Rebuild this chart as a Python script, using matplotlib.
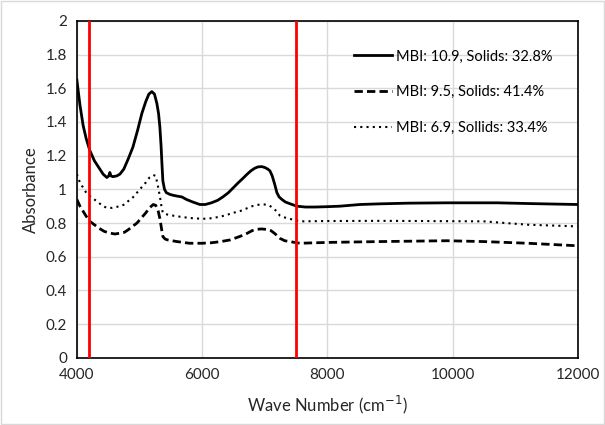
import matplotlib.pyplot as plt
from matplotlib.patches import Rectangle

plt.rcParams["font.family"] = ["Lato", "DejaVu Sans"]

# MBI 10.9, solids 32.8%
wn_a = [4000, 4050, 4100, 4150, 4208, 4280, 4350, 4420, 4480, 4510, 4527, 4545, 4575, 4640,
        4687, 4750, 4820, 4895, 4970, 5038, 5100, 5150, 5198, 5240, 5278, 5305, 5326, 5345,
        5358, 5374, 5400, 5430, 5486, 5534, 5600, 5677, 5750, 5850, 5965, 6050, 6150, 6250,
        6332, 6420, 6500, 6580, 6652, 6720, 6780, 6840, 6891, 6950, 7000, 7050, 7083, 7120,
        7160, 7195, 7230, 7275, 7330, 7400, 7514, 7650, 7800, 7994, 8200, 8521, 8840, 9300,
        9910, 10300, 10710, 11300, 12000]
abs_a = [1.65, 1.50, 1.38, 1.30, 1.23, 1.17, 1.13, 1.09, 1.07, 1.08, 1.10, 1.08, 1.075, 1.08,
         1.09, 1.12, 1.18, 1.25, 1.35, 1.45, 1.52, 1.565, 1.58, 1.565, 1.51, 1.45, 1.37, 1.26,
         1.16, 1.05, 1.00, 0.98, 0.97, 0.965, 0.96, 0.955, 0.94, 0.925, 0.91, 0.91, 0.92, 0.935,
         0.955, 0.98, 1.01, 1.04, 1.065, 1.09, 1.11, 1.125, 1.133, 1.135, 1.13, 1.12, 1.11, 1.08,
         1.03, 0.98, 0.955, 0.94, 0.925, 0.915, 0.90, 0.895, 0.895, 0.897, 0.90, 0.91, 0.914, 0.918,
         0.92, 0.92, 0.92, 0.915, 0.91]

# MBI 9.5, solids 41.4%
wn_b = [4000, 4050, 4100, 4150, 4208, 4280, 4350, 4440, 4530, 4610, 4690, 4760, 4820, 4890,
        4960, 5030, 5100, 5160, 5220, 5260, 5300, 5330, 5355, 5374, 5410, 5450, 5520, 5600,
        5700, 5800, 6000, 6150, 6300, 6450, 6600, 6700, 6800, 6880, 6950, 7030, 7100, 7170,
        7240, 7320, 7400, 7560, 8000, 8840, 9910, 10500, 11200, 12000]
abs_b = [0.94, 0.90, 0.87, 0.84, 0.81, 0.79, 0.77, 0.75, 0.74, 0.735, 0.74, 0.745, 0.76, 0.78,
         0.80, 0.83, 0.86, 0.89, 0.91, 0.905, 0.87, 0.82, 0.76, 0.72, 0.705, 0.70, 0.695, 0.69,
         0.685, 0.68, 0.68, 0.683, 0.69, 0.70, 0.72, 0.735, 0.755, 0.763, 0.765, 0.762, 0.755, 0.735,
         0.71, 0.695, 0.69, 0.68, 0.685, 0.69, 0.695, 0.69, 0.68, 0.665]

# MBI 6.9, solids 33.4%
wn_c = [4000, 4050, 4100, 4150, 4208, 4280, 4350, 4420, 4480, 4560, 4690, 4760, 4820, 4890,
        4960, 5030, 5100, 5160, 5220, 5260, 5300, 5330, 5355, 5374, 5410, 5450, 5520, 5600,
        5800, 6010, 6130, 6250, 6370, 6490, 6600, 6700, 6800, 6920, 7000, 7070, 7130, 7190,
        7240, 7300, 7350, 7450, 7560, 8000, 8840, 9500, 10500, 11200, 12000]
abs_c = [1.09, 1.04, 1.01, 0.98, 0.96, 0.94, 0.92, 0.90, 0.89, 0.89, 0.90, 0.91, 0.93, 0.95,
         0.98, 1.01, 1.04, 1.07, 1.085, 1.08, 1.01, 0.95, 0.89, 0.86, 0.855, 0.85, 0.845, 0.84,
         0.83, 0.825, 0.828, 0.835, 0.845, 0.86, 0.87, 0.885, 0.90, 0.91, 0.91, 0.905, 0.89, 0.87,
         0.845, 0.835, 0.83, 0.82, 0.81, 0.812, 0.813, 0.812, 0.81, 0.79, 0.78]

markers_wn = [4200, 7500]

fig = plt.figure(figsize=(6.05, 4.25), dpi=100)
fig.patches.append(Rectangle((0.002, 0.002), 0.996, 0.996, transform=fig.transFigure,
                             fill=False, edgecolor="#d9d9d9", linewidth=1))
ax = fig.add_axes([0.127, 0.158, 0.828, 0.793])

ax.plot(wn_a, abs_a, color="black", linewidth=2, label="MBI: 10.9, Solids: 32.8%", zorder=3)
ax.plot(wn_b, abs_b, color="black", linewidth=2, linestyle=(0, (3, 1.5)),
        label="MBI: 9.5, Solids: 41.4%", zorder=3)
ax.plot(wn_c, abs_c, color="black", linewidth=1.5, linestyle=(0, (1, 2)),
        label="MBI: 6.9, Sollids: 33.4%", zorder=3)
for w in markers_wn:
    ax.axvline(w, color="#ff0000", linewidth=2, zorder=4)

ax.set_xlim(4000, 12000)
ax.set_ylim(0, 2)
ax.set_xticks(range(4000, 12001, 2000))
ax.set_yticks([i / 10 for i in range(0, 21, 2)])
ax.set_yticklabels(["0", "0.2", "0.4", "0.6", "0.8", "1", "1.2", "1.4", "1.6", "1.8", "2"])
ax.grid(True, color="#d9d9d9", linewidth=1)
ax.set_axisbelow(True)
ax.tick_params(length=0, labelsize=11, pad=7, colors="#262626")
for s in ax.spines.values():
    s.set_color("black")
    s.set_linewidth(1.2)

ax.set_xlabel("Wave Number (cm$^{-1}$)", fontsize=12, color="#262626", labelpad=9)
ax.set_ylabel("Absorbance", fontsize=12, color="#262626", labelpad=5)

ax.legend(loc="upper right", bbox_to_anchor=(0.95, 0.915), frameon=False, fontsize=10.5,
          handlelength=2.6, labelspacing=1.5, borderaxespad=0, borderpad=0, handletextpad=0.3)

fig.savefig("out.png", dpi=100)
